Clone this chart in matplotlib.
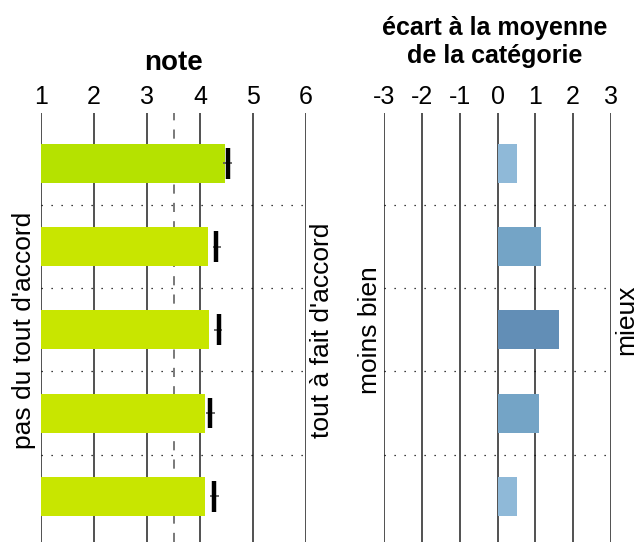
import matplotlib
matplotlib.use("Agg")
import matplotlib.pyplot as plt
import numpy as np

plt.rcParams['font.family'] = ['Liberation Sans', 'DejaVu Sans']

# data
note_bar = [4.47, 4.16, 4.17, 4.09, 4.09]
note_mean = [4.52, 4.31, 4.35, 4.18, 4.27]
ci_low = [4.43, 4.25, 4.27, 4.11, 4.19]
ci_high = [4.60, 4.39, 4.42, 4.28, 4.36]
note_colors = ['#b5e200', '#c8e600', '#c8e600', '#c8e600', '#c8e600']
ecart = [0.52, 1.16, 1.63, 1.10, 0.52]
ecart_colors = ['#8fb9d8', '#74a4c6', '#628eb6', '#74a4c6', '#8fb9d8']
note_ticks = [1, 2, 3, 4, 5, 6]
ecart_ticks = [-3, -2, -1, 0, 1, 2, 3]
seuil = 3.5

W, H = 638, 542
fig = plt.figure(figsize=(W / 100, H / 100), dpi=100)

def px_axes(x0, x1, y0, y1):
    return fig.add_axes([x0 / W, 1 - y1 / H, (x1 - x0) / W, (y1 - y0) / H])

ax1 = px_axes(41, 306, 113, 542)
ax2 = px_axes(384, 611, 113, 542)

ypos = np.arange(len(note_bar))
ylim = (4.55, -0.607)
bh = 0.47

for ax, ticks in ((ax1, note_ticks), (ax2, ecart_ticks)):
    ax.set_ylim(*ylim)
    ax.set_xlim(ticks[0], ticks[-1])
    for s in ax.spines.values():
        s.set_visible(False)
    ax.set_yticks([])
    ax.set_xticks(ticks)
    ax.set_xticklabels([str(t) for t in ticks])
    ax.xaxis.tick_top()
    ax.tick_params(axis='x', length=0, labelsize=18, pad=3)
    for t in ticks:
        ax.axvline(t, color='#222222', lw=1.1, zorder=1)
    for y in ypos[:-1] + 0.5:
        ax.axhline(y, color='black', lw=0.9, ls=(0, (1, 7)), zorder=1)

ax1.axvline(seuil, color='#555555', lw=1.1, ls=(0, (6, 6)), zorder=1)
ax1.barh(ypos, np.array(note_bar) - note_ticks[0], left=note_ticks[0], height=bh,
         color=note_colors, zorder=2)
ax1.hlines(ypos, ci_low, ci_high, color='#555555', lw=1.2, zorder=3)
ax1.vlines(note_mean, ypos - 0.185, ypos + 0.185, color='black', lw=3.2, zorder=4)

ax2.barh(ypos, ecart, height=bh, color=ecart_colors, zorder=2)

fig.text(173 / W, 1 - 63 / H, 'note', ha='center', va='center', fontsize=20,
         fontweight='bold')
fig.text(495 / W, 1 - 42 / H, 'écart à la moyenne\nde la catégorie', ha='center',
         va='center', fontsize=18, fontweight='bold', linespacing=1.25)

fig.text(24 / W, 1 - 330 / H, "pas du tout d'accord", rotation=90, ha='center',
         va='center', fontsize=19)
fig.text(322 / W, 1 - 330 / H, "tout à fait d'accord", rotation=90, ha='center',
         va='center', fontsize=19)
fig.text(370 / W, 1 - 330 / H, "moins bien", rotation=90, ha='center',
         va='center', fontsize=19)
fig.text(626 / W, 1 - 320 / H, "mieux", rotation=90, ha='center',
         va='center', fontsize=19)

fig.savefig('out.png', dpi=100)
